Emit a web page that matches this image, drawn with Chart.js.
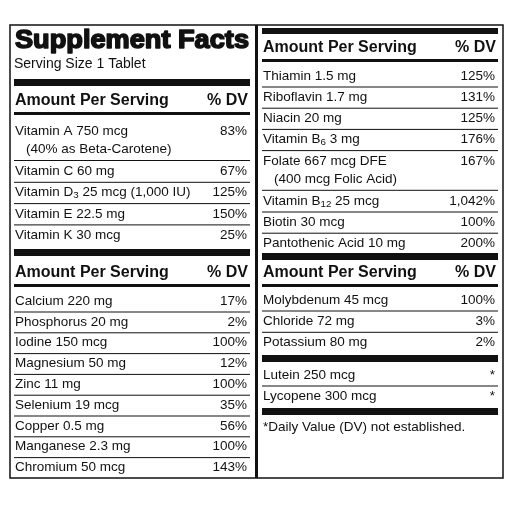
<!DOCTYPE html>
<html><head><meta charset="utf-8">
<script src="https://cdn.jsdelivr.net/npm/chart.js@4"></script>
<style>html,body{margin:0;padding:0;background:#fff}#wrap{width:512px;height:512px}</style>
</head><body><div id="wrap"><canvas id="c" width="512" height="512"></canvas></div>
<script>
const title = "Supplement Facts";
const serving = "Serving Size 1 Tablet";
const headerLabel = "Amount Per Serving";
const headerDV = "% DV";
const vitaminsA = ["Vitamin A 750 mcg", "Vitamin C 60 mg", "Vitamin D_{3} 25 mcg (1,000 IU)", "Vitamin E 22.5 mg", "Vitamin K 30 mcg"];
const vitaminsADV = ["83%", "67%", "125%", "150%", "25%"];
const vitaminsANote = ["(40% as Beta-Carotene)", "", "", "", ""];
const minerals = ["Calcium 220 mg", "Phosphorus 20 mg", "Iodine 150 mcg", "Magnesium 50 mg", "Zinc 11 mg", "Selenium 19 mcg", "Copper 0.5 mg", "Manganese 2.3 mg", "Chromium 50 mcg"];
const mineralsDV = ["17%", "2%", "100%", "12%", "100%", "35%", "56%", "100%", "143%"];
const vitaminsB = ["Thiamin 1.5 mg", "Riboflavin 1.7 mg", "Niacin 20 mg", "Vitamin B_{6} 3 mg", "Folate 667 mcg DFE", "Vitamin B_{12} 25 mcg", "Biotin 30 mcg", "Pantothenic Acid 10 mg"];
const vitaminsBDV = ["125%", "131%", "125%", "176%", "167%", "1,042%", "100%", "200%"];
const vitaminsBNote = ["", "", "", "", "(400 mcg Folic Acid)", "", "", ""];
const trace = ["Molybdenum 45 mcg", "Chloride 72 mg", "Potassium 80 mg"];
const traceDV = ["100%", "3%", "2%"];
const others = ["Lutein 250 mcg", "Lycopene 300 mcg"];
const othersDV = ["*", "*"];
const footnote = "*Daily Value (DV) not established.";

const F = "'Liberation Sans', Arial, sans-serif";
function txt(ctx, s, x, y, size, bold, align) {
  ctx.textBaseline = 'middle';
  const parts = s.split(/_\{|\}/);
  if (align === 'right') {
    ctx.textAlign = 'right'; ctx.font = (bold?'bold ':'') + size + 'px ' + F;
    ctx.fillText(s, x, y); return;
  }
  ctx.textAlign = 'left';
  let cx = x;
  parts.forEach((p, i) => {
    const sub = i % 2 === 1;
    const sz = sub ? size * 0.72 : size;
    ctx.font = (bold?'bold ':'') + sz + 'px ' + F;
    ctx.fillText(p, cx, sub ? y + 3 : y);
    cx += ctx.measureText(p).width;
  });
}
function bar(ctx, x1, x2, y, h) { ctx.fillRect(x1, y, x2 - x1, h); }

const tablePlugin = {
  id: 'table',
  afterDraw(chart) {
    const ctx = chart.ctx;
    ctx.save(); ctx.fillStyle = '#111'; ctx.strokeStyle = '#111';
    ctx.lineWidth = 1.5; ctx.strokeRect(10, 25, 493, 453);
    bar(ctx, 255, 258, 25, 453);
    const L1 = 14, L2 = 250, R1 = 262, R2 = 498, fs = 13.5;
    ctx.textBaseline = 'middle'; ctx.textAlign = 'left';
    ctx.font = 'bold 26px ' + F;
    ctx.lineWidth = 1.6; ctx.lineJoin = 'round';
    const tw = ctx.measureText(title).width, sx = (L2 - L1 - 2) / tw;
    ctx.save(); ctx.translate(L1 + 1, 41); ctx.scale(sx, 1);
    ctx.fillText(title, 0, 0); ctx.strokeText(title, 0, 0); ctx.restore();
    txt(ctx, serving, L1, 64, 14, false);
    bar(ctx, L1, L2, 79, 7);
    function header(x1, x2, y) { txt(ctx, headerLabel, x1 + 1, y, 16, true); txt(ctx, headerDV, x2 - 2, y, 16, true, 'right'); bar(ctx, x1, x2, y + 11, 3); }
    function rows(x1, x2, names, dvs, notes, y0, step) {
      let y = y0;
      names.forEach((n, i) => {
        txt(ctx, n, x1 + 1, y, fs, false); txt(ctx, dvs[i], x2 - 3, y, fs, false, 'right');
        let bottom = y + 10.5;
        if (notes && notes[i]) { txt(ctx, notes[i], x1 + 12, y + 18, fs, false); bottom = y + 29; y += 19; }
        if (i < names.length - 1) bar(ctx, x1, x2, bottom, 1);
        y += step;
      });
    }
    header(L1, L2, 101);
    rows(L1, L2, vitaminsA, vitaminsADV, vitaminsANote, 131, 21.3);
    bar(ctx, L1, L2, 249, 7);
    header(L1, L2, 273);
    rows(L1, L2, minerals, mineralsDV, null, 301, 20.8);
    bar(ctx, R1, R2, 28, 6);
    header(R1, R2, 48);
    rows(R1, R2, vitaminsB, vitaminsBDV, vitaminsBNote, 76, 21.2);
    bar(ctx, R1, R2, 253, 7);
    header(R1, R2, 273);
    rows(R1, R2, trace, traceDV, null, 300, 21.3);
    bar(ctx, R1, R2, 355, 7);
    rows(R1, R2, others, othersDV, null, 375, 21.5);
    bar(ctx, R1, R2, 408, 7);
    txt(ctx, footnote, R1 + 1, 427, fs, false);
    ctx.restore();
  }
};

new Chart(document.getElementById('c'), {
  type: 'bar',
  data: { labels: [], datasets: [] },
  options: { responsive: false, animation: false, events: [],
    plugins: { legend: { display: false }, tooltip: { enabled: false } },
    scales: { x: { display: false }, y: { display: false } } },
  plugins: [tablePlugin]
});
</script></body></html>
